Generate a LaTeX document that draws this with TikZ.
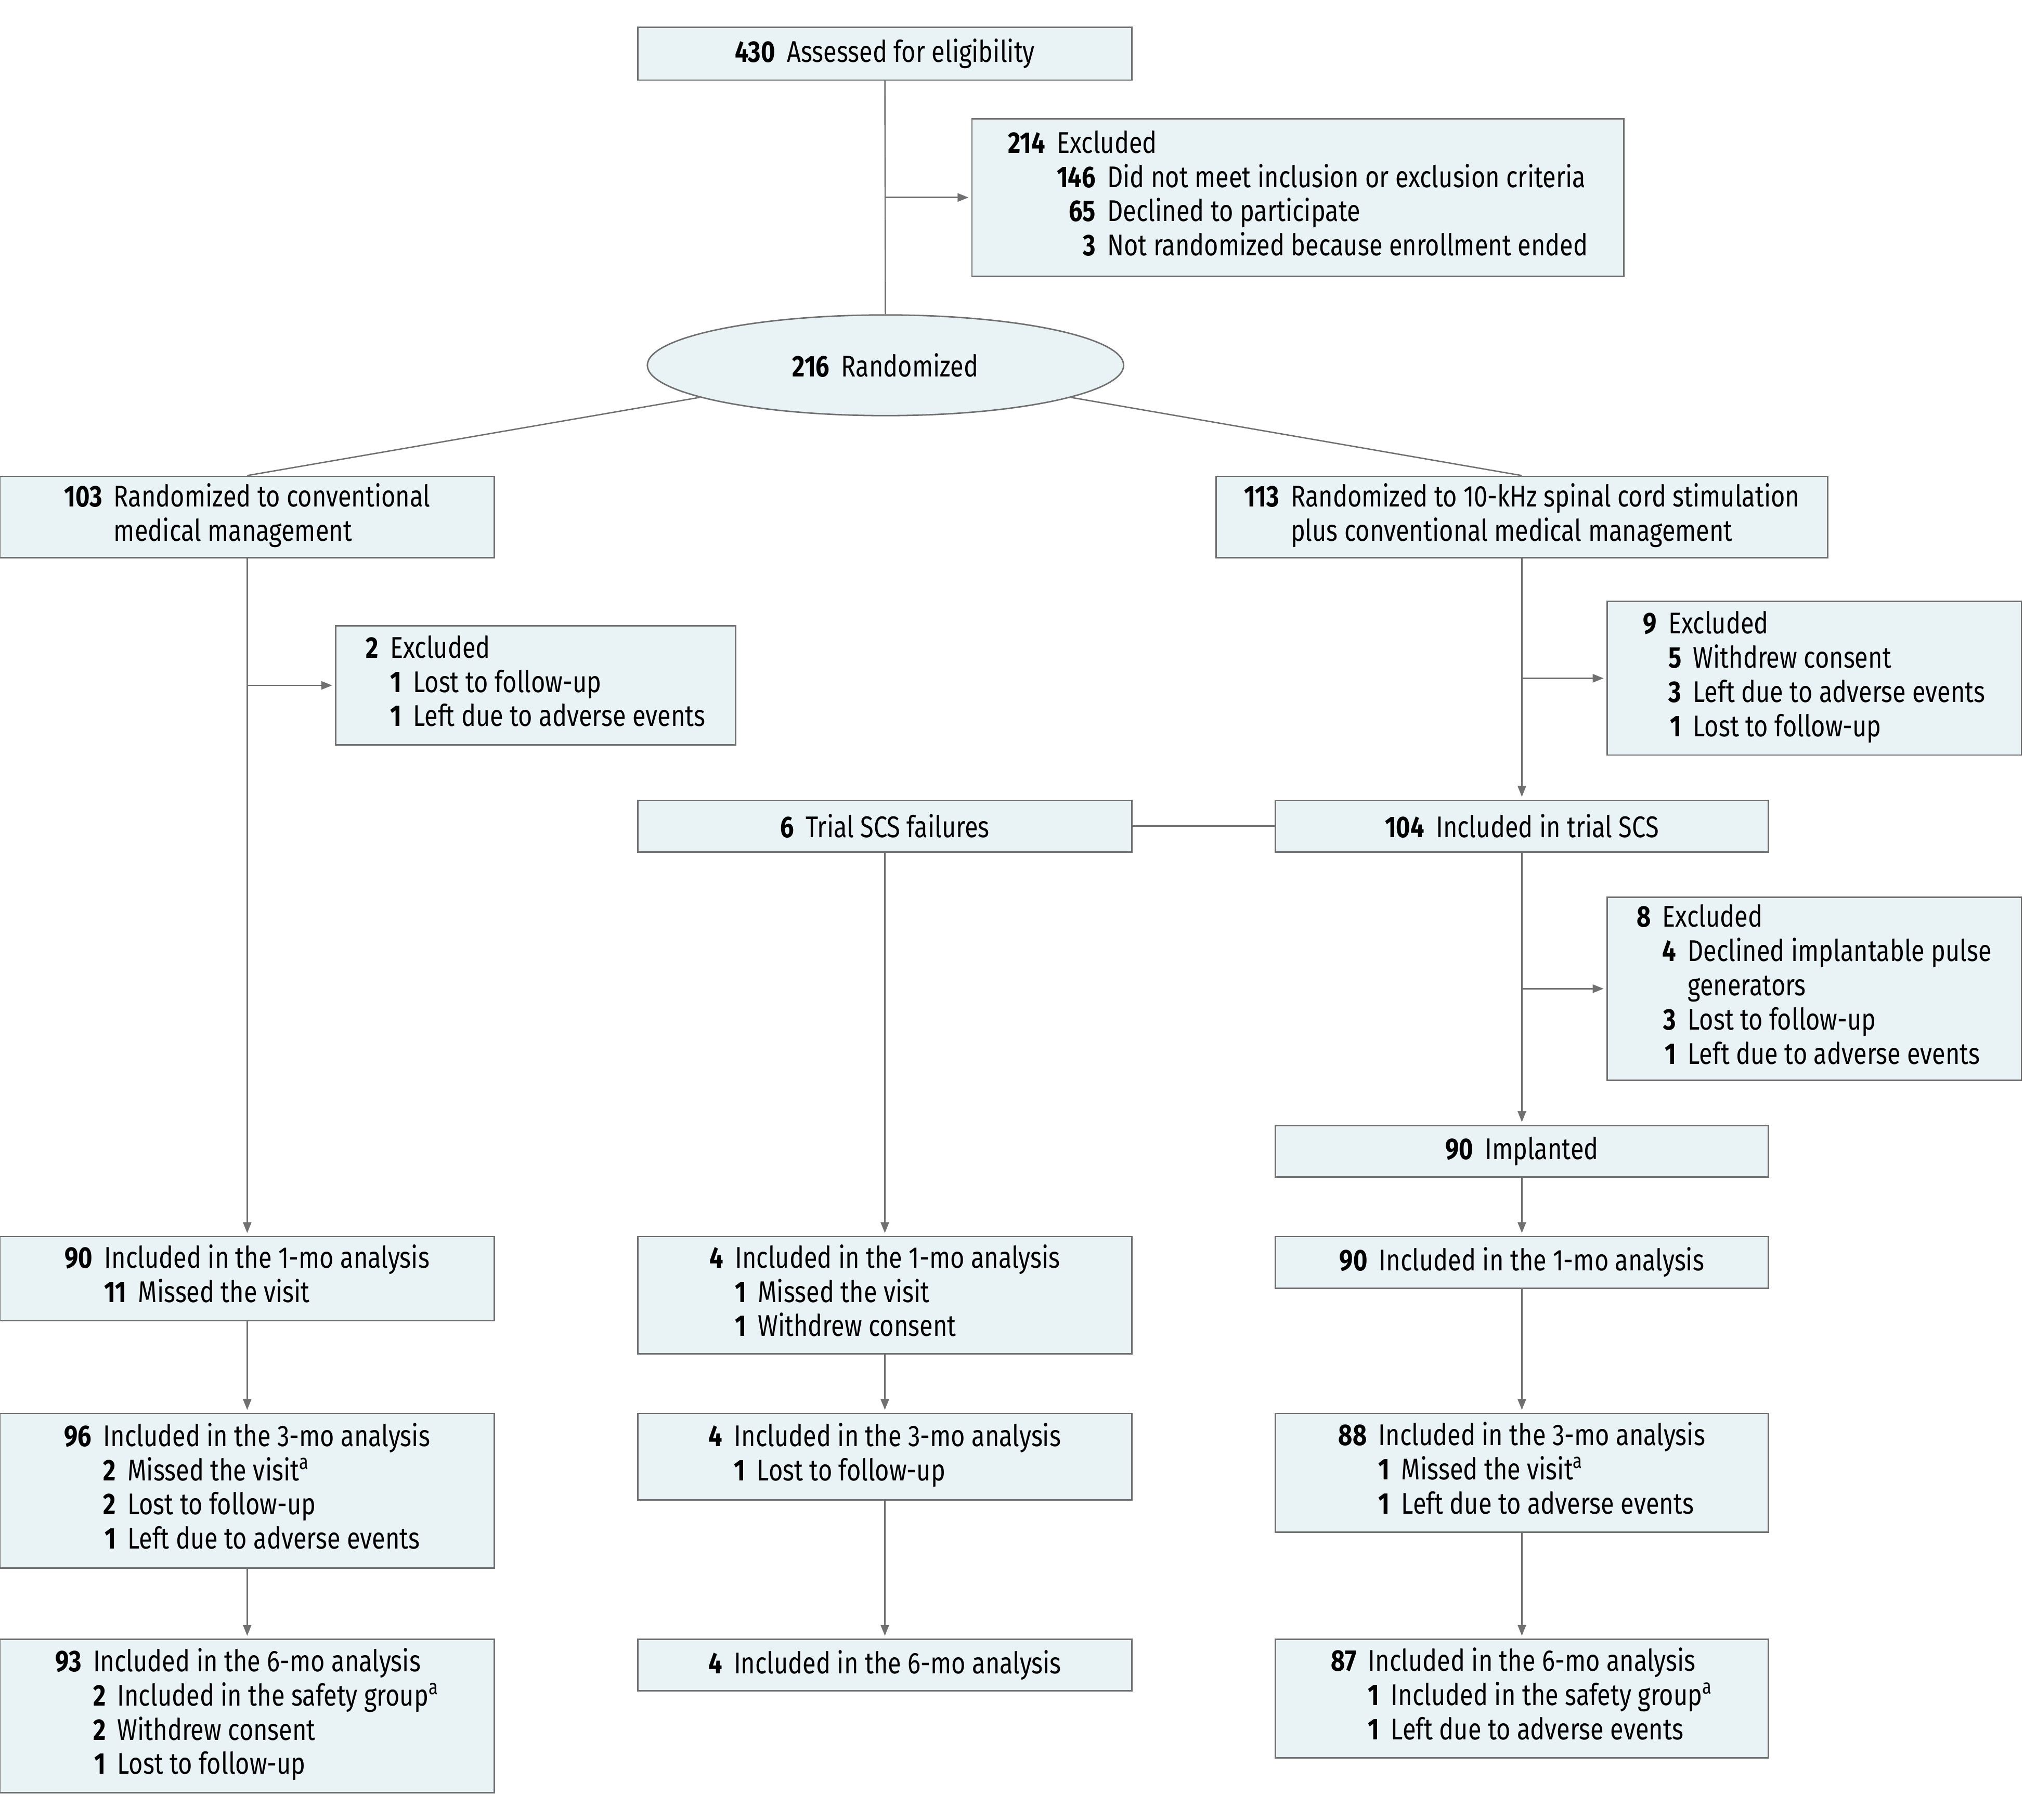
\documentclass[tikz,border=0pt]{standalone}
\usepackage{fontspec}
\setmainfont[FakeStretch=0.815]{Fira Sans}
\usetikzlibrary{arrows.meta,shapes.geometric}
\definecolor{boxfill}{HTML}{E9F3F5}
\definecolor{linegray}{HTML}{707070}
% number + text for one-line boxes
\newcommand{\nt}[2]{\textbf{#1}\hspace{6.4pt}#2}
% rows of the multi-line boxes
\newcommand{\hdrow}[2]{\textbf{#1} & \multicolumn{2}{@{}l@{}}{#2}\\}
\newcommand{\subrow}[2]{& \textbf{#1} & #2\\}
\newcommand{\controw}[1]{& \multicolumn{2}{@{}l@{}}{#1}\\}
\newenvironment{rows}{\begin{tabular}{@{}r@{\hspace{6.4pt}}r@{\hspace{6.4pt}}l@{}}}{\end{tabular}}
\tikzset{
  box/.style={draw=linegray, line width=0.8pt, fill=boxfill, font=\fontsize{16.5}{18.85}\selectfont, inner sep=0pt},
  sz/.style 2 args={minimum width=#1*0.025cm, minimum height=#2*0.025cm},
  link/.style={draw=linegray, line width=0.75pt},
  arr/.style={link, -{Triangle[length=6pt, width=4.6pt]}, shorten >=1.5pt}
}
\begin{document}
\begin{tikzpicture}[x=0.025cm, y=-0.025cm]
    \useasboundingbox (0,0) rectangle (1568,1410);

    % enrollment
    \node[box, sz={383}{41}] (assess) at (685.5,41.5) {\nt{430}{Assessed for eligibility}};
    \node[box, sz={505}{122}] (excl) at (1005.5,153) {\begin{rows}
        \hdrow{214}{Excluded}
        \subrow{146}{Did not meet inclusion or exclusion criteria}
        \subrow{65}{Declined to participate}
        \subrow{3}{Not randomized because enrollment ended}
      \end{rows}};
    \node[box, ellipse, sz={369}{78}] (rand) at (686,283) {\nt{216}{Randomized}};

    % allocation
    \node[box, sz={383}{63}] (cmm) at (191.5,400.5) {\begin{rows}
        \hdrow{103}{Randomized to conventional}
        \controw{medical management}
      \end{rows}};
    \node[box, sz={474}{63}] (scs) at (1179,400.5) {\begin{rows}
        \hdrow{113}{Randomized to 10-kHz spinal cord stimulation}
        \controw{plus conventional medical management}
      \end{rows}};
    \node[box, sz={310}{92}] (cmmexcl) at (415,531) {\begin{rows}
        \hdrow{2}{Excluded}
        \subrow{1}{Lost to follow-up}
        \subrow{1}{Left due to adverse events}
      \end{rows}};
    \node[box, sz={321}{119}] (scsexcl) at (1405.5,525.5) {\begin{rows}
        \hdrow{9}{Excluded}
        \subrow{5}{Withdrew consent}
        \subrow{3}{Left due to adverse events}
        \subrow{1}{Lost to follow-up}
      \end{rows}};

    % trial stimulation
    \node[box, sz={383}{40}] (fail) at (685.5,640) {\nt{6}{Trial SCS failures}};
    \node[box, sz={382}{40}] (trial) at (1179,640) {\nt{104}{Included in trial SCS}};
    \node[box, sz={321}{142}] (trialexcl) at (1405.5,766) {\begin{rows}
        \hdrow{8}{Excluded}
        \subrow{4}{Declined implantable pulse}
        & & generators\\
        \subrow{3}{Lost to follow-up}
        \subrow{1}{Left due to adverse events}
      \end{rows}};
    \node[box, sz={382}{40}] (impl) at (1179,892) {\nt{90}{Implanted}};

    % 1-mo analysis
    \node[box, sz={383}{65}] (cmmone) at (191.5,990.5) {\begin{rows}
        \hdrow{90}{Included in the 1-mo analysis}
        \subrow{11}{Missed the visit}
      \end{rows}};
    \node[box, sz={383}{91}] (failone) at (685.5,1003.5) {\begin{rows}
        \hdrow{4}{Included in the 1-mo analysis}
        \subrow{1}{Missed the visit}
        \subrow{1}{Withdrew consent}
      \end{rows}};
    \node[box, sz={382}{40}] (implone) at (1179,978) {\nt{90}{Included in the 1-mo analysis}};

    % 3-mo analysis
    \node[box, sz={383}{120}] (cmmthree) at (191.5,1155) {\begin{rows}
        \hdrow{96}{Included in the 3-mo analysis}
        \subrow{2}{Missed the visit\textsuperscript{a}}
        \subrow{2}{Lost to follow-up}
        \subrow{1}{Left due to adverse events}
      \end{rows}};
    \node[box, sz={383}{67}] (failthree) at (685.5,1128.5) {\begin{rows}
        \hdrow{4}{Included in the 3-mo analysis}
        \subrow{1}{Lost to follow-up}
      \end{rows}};
    \node[box, sz={382}{92}] (implthree) at (1179,1141) {\begin{rows}
        \hdrow{88}{Included in the 3-mo analysis}
        \subrow{1}{Missed the visit\textsuperscript{a}}
        \subrow{1}{Left due to adverse events}
      \end{rows}};

    % 6-mo analysis
    \node[box, sz={383}{119}] (cmmsix) at (191.5,1329.5) {\begin{rows}
        \hdrow{93}{Included in the 6-mo analysis}
        \subrow{2}{Included in the safety group\textsuperscript{a}}
        \subrow{2}{Withdrew consent}
        \subrow{1}{Lost to follow-up}
      \end{rows}};
    \node[box, sz={383}{40}] (failsix) at (685.5,1290) {\nt{4}{Included in the 6-mo analysis}};
    \node[box, sz={382}{92}] (implsix) at (1179,1316) {\begin{rows}
        \hdrow{87}{Included in the 6-mo analysis}
        \subrow{1}{Included in the safety group\textsuperscript{a}}
        \subrow{1}{Left due to adverse events}
      \end{rows}};

    % connectors
    \draw[link] (assess) -- (rand);
    \draw[arr] (assess |- excl) -- (excl);
    \draw[link] (rand) -- (cmm.north);
    \draw[link] (rand) -- (scs.north);

    \draw[arr] (cmm) -- (cmmone);
    \draw[arr] (cmm |- cmmexcl) -- (cmmexcl);
    \draw[arr] (scs) -- (trial);
    \draw[arr] (scs |- scsexcl) -- (scsexcl);

    \draw[link] (fail) -- (trial);
    \draw[arr] (trial) -- (impl);
    \draw[arr] (trial |- trialexcl) -- (trialexcl);
    \draw[arr] (impl) -- (implone);

    \draw[arr] (fail) -- (failone);
    \draw[arr] (failone) -- (failthree);
    \draw[arr] (failthree) -- (failsix);

    \draw[arr] (cmmone) -- (cmmthree);
    \draw[arr] (cmmthree) -- (cmmsix);
    \draw[arr] (implone) -- (implthree);
    \draw[arr] (implthree) -- (implsix);
\end{tikzpicture}
\end{document}
